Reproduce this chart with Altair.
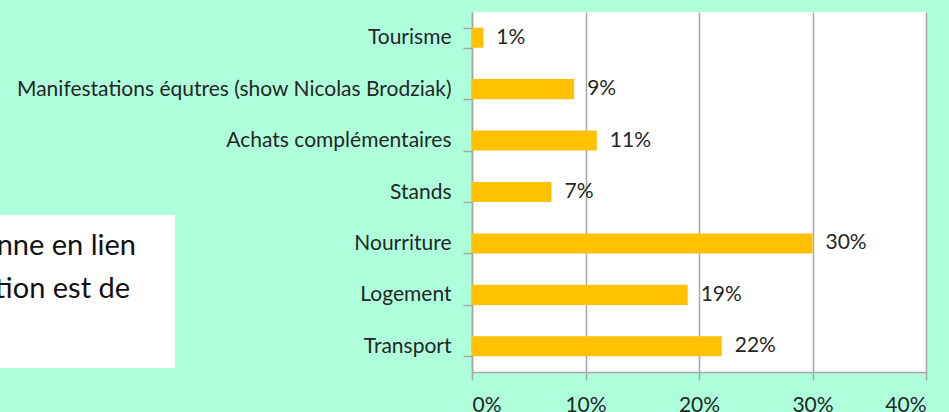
import altair as alt
import pandas as pd

categories = ["Tourisme", "Manifestations équtres (show Nicolas Brodziak)", "Achats complémentaires",
              "Stands", "Nourriture", "Logement", "Transport"]
values = [1, 9, 11, 7, 30, 19, 22]
x_ticks = [0, 10, 20, 30, 40]
box_lines = ["nne en lien", "tion est de"]

df = pd.DataFrame({"cat": categories, "val": values,
                   "lbl": [f"{v}%" for v in values]})

FONT = "Lato"
TXT = "#262626"
GRID = "#A6A6A6"

y_enc = alt.Y("cat:N", sort=categories, title=None,
              scale=alt.Scale(paddingInner=0.61, paddingOuter=0.305),
              axis=alt.Axis(labelFont=FONT, labelFontSize=21, labelColor=TXT,
                            labelPadding=12, tickSize=9, tickColor=GRID,
                            tickBand="extent", domainColor=GRID, domainWidth=1.5,
                            tickWidth=1.5, grid=False, labelLimit=600))
x_enc = alt.X("val:Q", title=None,
              scale=alt.Scale(domain=[0, 40], nice=False),
              axis=alt.Axis(values=x_ticks, labelExpr="datum.value + '%'",
                            labelFont=FONT, labelFontSize=21, labelColor=TXT,
                            labelPadding=14, tickSize=8, tickColor=GRID, tickWidth=1.5,
                            domainColor=GRID, domainWidth=1.5,
                            grid=True, gridColor=GRID, gridWidth=1.5,
                            labelBaseline="top"))

bars = alt.Chart(df).mark_bar(color="#FFC000").encode(x=x_enc, y=y_enc)
labels = alt.Chart(df).mark_text(align="left", dx=13, font=FONT, fontSize=21,
                                 color=TXT).encode(x="val:Q", y=alt.Y("cat:N", sort=categories),
                                                   text="lbl:N")

box_df = pd.DataFrame({"k": [0]})
box = alt.Chart(box_df).mark_rect(color="white").encode(
    x=alt.value(-472), x2=alt.value(-297), y=alt.value(203), y2=alt.value(356))

t1_df = pd.DataFrame({"t": [box_lines[0]]})
t2_df = pd.DataFrame({"t": [box_lines[1]]})
text_kw = dict(align="right", baseline="alphabetic", font=FONT, fontSize=29, color="#111111")
box_t1 = alt.Chart(t1_df).mark_text(**text_kw).encode(
    x=alt.value(-336), y=alt.value(243), text="t:N")
box_t2 = alt.Chart(t2_df).mark_text(**text_kw).encode(
    x=alt.value(-342), y=alt.value(286), text="t:N")

chart = alt.layer(bars, labels, box, box_t1, box_t2).properties(
    width=454, height=360,
    autosize=alt.AutoSizeParams(type="none"),
    padding={"left": 472, "top": 12, "right": 23, "bottom": 40},
    background="#AEFFDC",
).configure_view(fill="white", stroke=None)

chart.save("out.html", embed_options={"renderer": "svg", "actions": False})
